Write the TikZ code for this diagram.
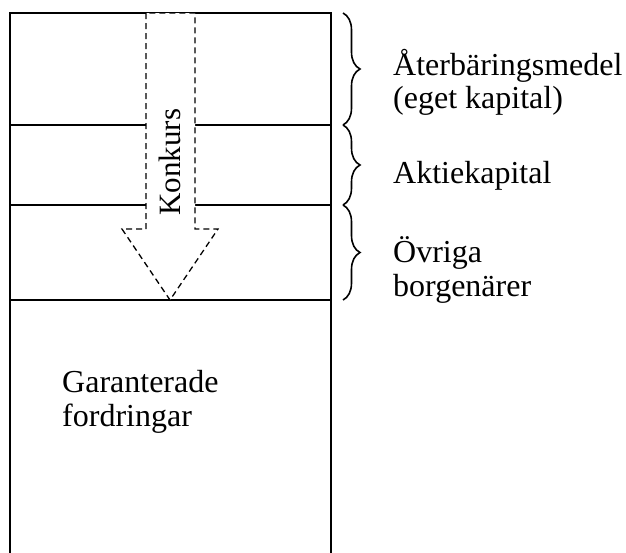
\documentclass[tikz,border=0pt]{standalone}
\usepackage{fontspec}
\setmainfont{Liberation Serif}
\usetikzlibrary{decorations.pathreplacing}
\begin{document}
\begin{tikzpicture}[x=1pt,y=-1pt,
  boxline/.style={line width=1.6pt},
  arrowshape/.style={draw,fill=white,line width=1.3pt,dash pattern=on 6pt off 4pt},
  lbl/.style={font=\fontsize{32}{36}\selectfont,inner sep=0pt,anchor=base west},
  bracestyle/.style={line width=1.6pt,decorate,decoration={brace,amplitude=17pt}}]
\useasboundingbox (0,0) rectangle (626,552);
% box
\draw[boxline] (10,560) -- (10,13) -- (331,13) -- (331,560);
\draw[boxline] (10,125) -- (331,125);
\draw[boxline] (10,205) -- (331,205);
\draw[boxline] (10,300) -- (331,300);
% arrow
\draw[arrowshape] (146,13) -- (146,229) -- (122,229) -- (170,300) -- (218,229) -- (195,229) -- (195,13) -- cycle;
\node[font=\fontsize{31}{36}\selectfont,rotate=90,inner sep=0pt] (konkurs) at (170,162) {Konkurs};
% braces
\coordinate (b1) at (343,13);
\coordinate (b2) at (343,125);
\coordinate (b3) at (343,205);
\coordinate (b4) at (343,300);
\draw[bracestyle] (b1) -- (b2);
\draw[bracestyle] (b2) -- (b3);
\draw[bracestyle] (b3) -- (b4);
% labels
\node[lbl] (ater1) at (393,75) {Återbäringsmedel};
\node[lbl] (ater2) at (393,108) {(eget kapital)};
\node[lbl] (aktie) at (393,183) {Aktiekapital};
\node[lbl] (ovriga1) at (393,262) {Övriga};
\node[lbl] (ovriga2) at (393,296) {borgenärer};
\node[lbl] (garant1) at (62,392) {Garanterade};
\node[lbl] (garant2) at (62,426) {fordringar};
\end{tikzpicture}
\end{document}
